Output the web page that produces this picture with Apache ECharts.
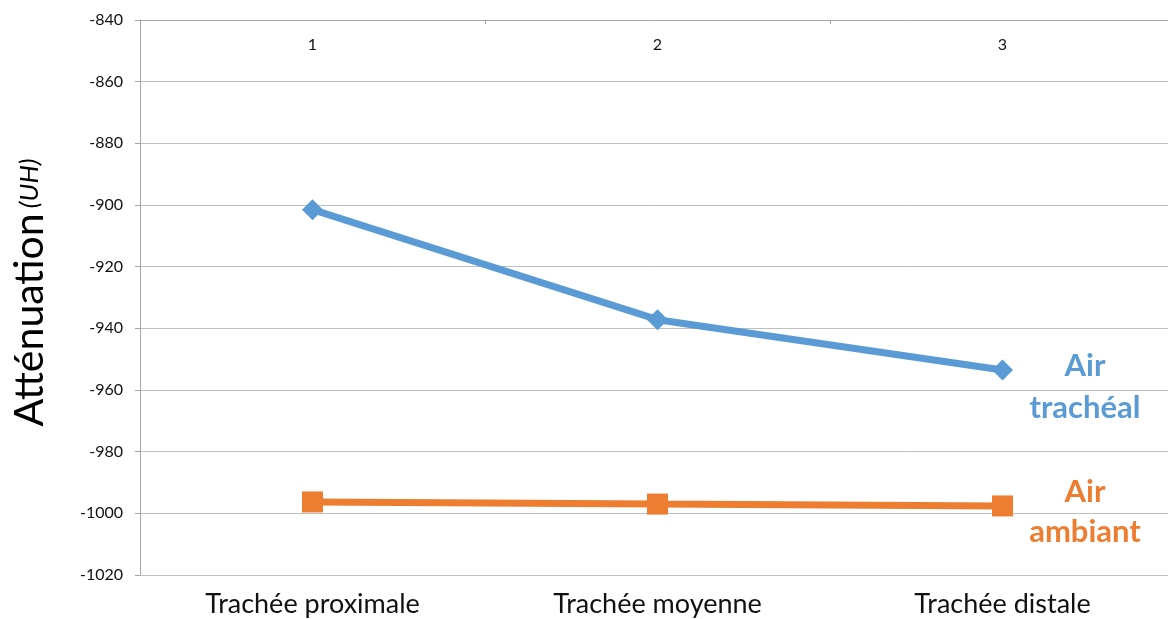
<!DOCTYPE html>
<html><head><meta charset="utf-8">
<script src="https://cdn.jsdelivr.net/npm/echarts@6/dist/echarts.min.js"></script>
<style>html,body{margin:0;padding:0;background:#fff}#c{width:1168px;height:619px}</style>
</head><body><div id="c"></div>
<script>
const categories = ['Trachée proximale', 'Trachée moyenne', 'Trachée distale'];
const topLabels = ['1', '2', '3'];
const airTracheal = [-901.5, -937.2, -953.5];
const airAmbiant = [-996.3, -997.0, -997.6];
const yMin = -1020, yMax = -840, yStep = 20;

const FONT = 'Lato, "Open Sans", sans-serif';
const chart = echarts.init(document.getElementById('c'));
chart.setOption({
  animation: false,
  backgroundColor: '#fff',
  grid: { left: 140, right: -7, top: 20, bottom: 44, containLabel: false, outerBoundsMode: 'none' },
  xAxis: [
    { type: 'category', data: categories, position: 'bottom', boundaryGap: true,
      axisLine: { show: true, lineStyle: { color: '#BFBFBF', width: 1 } },
      axisTick: { show: false },
      axisLabel: { color: '#111', fontSize: 27, fontFamily: FONT, margin: 16 } },
    { type: 'category', data: topLabels, position: 'top', boundaryGap: true,
      axisLine: { show: true, lineStyle: { color: '#A6A6A6', width: 1 } },
      axisTick: { show: true, inside: true, length: 4, lineStyle: { color: '#A6A6A6' } },
      axisLabel: { inside: true, color: '#111', fontSize: 16, fontFamily: FONT, margin: 17 } }
  ],
  yAxis: {
    type: 'value', min: yMin, max: yMax, interval: yStep,
    axisLine: { show: true, lineStyle: { color: '#A6A6A6', width: 1 } },
    axisTick: { show: true, length: 5, lineStyle: { color: '#A6A6A6' } },
    axisLabel: { color: '#111', fontSize: 16, fontFamily: FONT, margin: 17,
      formatter: v => String(v) },
    splitLine: { show: true, lineStyle: { color: '#BFBFBF', width: 1 } },
    name: '{a|Atténuation}{s| }{b|(UH)}',
    nameLocation: 'middle', nameRotate: 90, nameGap: 90,
    nameTextStyle: { padding: [0, 0, 0, 10], rich: {
      a: { fontSize: 41, fontFamily: FONT, color: '#000' },
      s: { fontSize: 20, fontFamily: FONT },
      b: { fontSize: 26, fontStyle: 'italic', fontFamily: FONT, color: '#000' } } }
  },
  series: [
    { type: 'line', data: airTracheal.map((v, i) => i === airTracheal.length - 1 ? {
        value: v, label: { show: true, formatter: 'Air\ntrachéal', position: [93, 28],
          align: 'center', verticalAlign: 'middle', color: '#5B9BD5', fontSize: 31,
          fontWeight: 'bold', fontFamily: FONT, lineHeight: 42 } } : v),
      xAxisIndex: 0, symbol: 'diamond', symbolSize: 21,
      lineStyle: { color: '#5B9BD5', width: 7 }, itemStyle: { color: '#5B9BD5' } },
    { type: 'line', data: airAmbiant.map((v, i) => i === airAmbiant.length - 1 ? {
        value: v, label: { show: true, formatter: 'Air\nambiant', position: [93, 17],
          align: 'center', verticalAlign: 'middle', color: '#ED7D31', fontSize: 31,
          fontWeight: 'bold', fontFamily: FONT, lineHeight: 40 } } : v),
      xAxisIndex: 0, symbol: 'rect', symbolSize: 21,
      lineStyle: { color: '#ED7D31', width: 7 }, itemStyle: { color: '#ED7D31' } }
  ]
});
</script></body></html>
